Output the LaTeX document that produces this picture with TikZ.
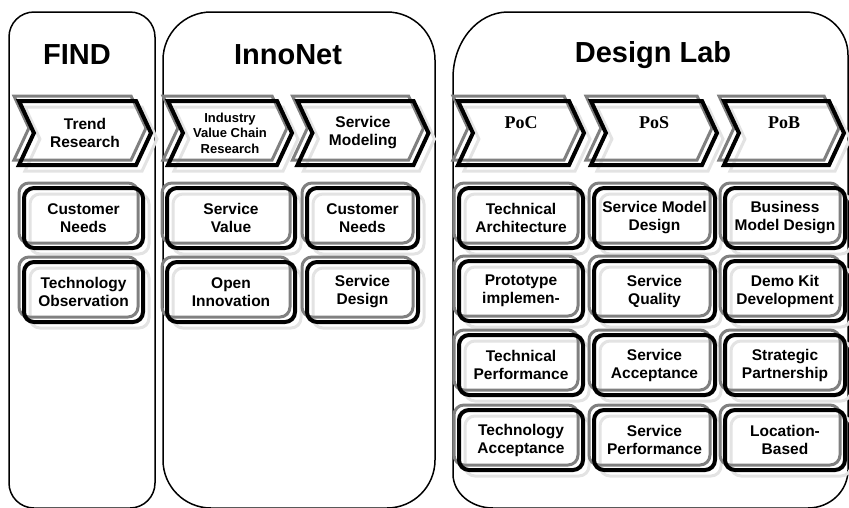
\documentclass[tikz,border=0pt]{standalone}
\usepackage{fontspec}
\setmainfont{Liberation Sans}
\newfontfamily\serifface{Liberation Serif}
\usetikzlibrary{shapes.symbols,shadows}

\begin{document}
\begin{tikzpicture}[x=1pt, y=-1pt,
    lane/.style={draw, line width=1.5pt},
    heading/.style={font=\fontsize{29}{32}\selectfont\bfseries},
    framed/.style={preaction={fill=white},
        copy shadow={draw=gray!22, fill=none, line width=3pt, shadow xshift=6pt, shadow yshift=-6pt},
        copy shadow={draw=gray, fill=none, line width=3pt, shadow xshift=-5pt, shadow yshift=5pt},
        draw=black, line width=4pt, align=center, inner sep=0pt},
    phase/.style={framed, signal, signal from=west, signal to=east, signal pointer angle=130,
        minimum height=64pt, minimum width=#1, font=\fontsize{15.5}{18}\selectfont\bfseries},
    phase/.default=126pt,
    proof/.style={phase=#1, text depth=20pt, font=\fontsize{18}{20}\serifface\bfseries},
    proof/.default=126pt,
    task/.style={framed, rounded corners=10pt, minimum height=60pt, minimum width=#1,
        font=\fontsize{15.5}{18}\selectfont\bfseries},
    task/.default=120pt
]
\useasboundingbox (0,0) rectangle (849,507);

% the three lanes
\draw[lane, rounded corners=25pt] (9,12) rectangle (155,508);
\draw[lane, rounded corners=48pt] (163,12) rectangle (435,508);
\draw[lane] (453,300) -- (453,78)
    arc[start angle=180, end angle=90, x radius=55pt, y radius=66pt] -- (805,12)
    arc[start angle=90, end angle=0, x radius=43pt, y radius=43pt] -- (848,470)
    arc[start angle=0, end angle=-90, x radius=40pt, y radius=38pt] -- (493,508)
    arc[start angle=-90, end angle=-180, x radius=40pt, y radius=34pt] -- cycle;

\node[heading] (find) at (77,55) {FIND};
\node[heading] (innonet) at (288,55) {InnoNet};
\node[heading] (designlab) at (653,55) {Design Lab};

% phases
\node[phase=132pt] (trend) at (85,133) {Trend\\Research};
\node[phase=124pt, font=\fontsize{13}{15.5}\selectfont\bfseries] (valuechain) at (230,133) {Industry\\Value Chain\\Research};
\node[phase=131pt] (modeling) at (363,133) {Service\\Modeling};
\node[proof] (poc) at (521,133) {PoC};
\node[proof] (pos) at (654,133) {PoS};
\node[proof=120pt] (pob) at (784,133) {PoB};

% FIND
\node[task=119pt] (needsF) at (83.5,218) {Customer\\Needs};
\node[task=119pt] (observe) at (83.5,292) {Technology\\Observation};

% InnoNet
\node[task=128pt] (value) at (231,218) {Service\\Value};
\node[task=128pt] (openinno) at (231,292) {Open\\Innovation};
\node[task=111pt] (needsI) at (362.5,218) {Customer\\Needs};
\node[task=111pt] (sdesign) at (362.5,292) {Service\\Design};

% Design Lab
\node[task=124pt] (techarch) at (521,218) {Technical\\Architecture};
\node[task=124pt] (proto) at (521,291) {Prototype\\implemen-};
\node[task=124pt] (techperf) at (521,365) {Technical\\Performance};
\node[task=124pt] (techacc) at (521,440) {Technology\\Acceptance};

\node[task=121pt] (smodel) at (654.5,218) {Service Model\\Design};
\node[task=121pt] (squality) at (654.5,291) {Service\\Quality};
\node[task=121pt] (saccept) at (654.5,365) {Service\\Acceptance};
\node[task=121pt] (sperf) at (654.5,440) {Service\\Performance};

\node[task=120pt] (bizmodel) at (785,218) {Business\\Model Design};
\node[task=120pt] (demokit) at (785,291) {Demo Kit\\Development};
\node[task=120pt] (partner) at (785,365) {Strategic\\Partnership};
\node[task=120pt] (location) at (785,440) {Location-\\Based};
\end{tikzpicture}
\end{document}
